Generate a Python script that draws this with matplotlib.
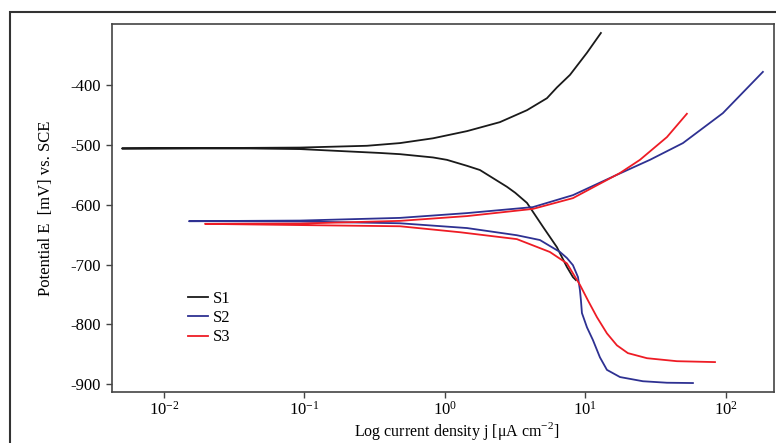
import numpy as np
import matplotlib
matplotlib.use('Agg')
import matplotlib.pyplot as plt
from matplotlib.patches import Rectangle
from matplotlib.ticker import LogLocator, NullLocator

plt.rcParams['font.family'] = ['Liberation Serif', 'DejaVu Serif']
plt.rcParams['mathtext.fontset'] = 'custom'
plt.rcParams['mathtext.rm'] = 'Liberation Serif'
plt.rcParams['axes.unicode_minus'] = False

# Polarization curves: log10 of j (uA/cm2) and E (mV vs SCE),
# ordered from the cathodic end, through Ecorr, to the anodic end
s1_logj = [0.932, 0.911, 0.868, 0.797, 0.698, 0.584, 0.50, 0.441, 0.249, 0.157, 0.014,
           -0.085, -0.320, -0.463, -1.032, -1.388, -2.299,
           -1.388, -1.032, -0.555, -0.320, -0.085, 0.157, 0.391, 0.584, 0.726,
           0.797, 0.890, 1.011, 1.110]
s1_E = [-726, -721, -704, -671, -637, -597, -580, -570, -542, -535, -525,
        -521, -515.5, -513.5, -507, -506, -506,
        -505, -504.5, -501.5, -497, -489, -477, -462, -442, -422,
        -404, -383, -346, -313]

s2_logj = [1.765, 1.580, 1.409, 1.246, 1.153, 1.103, 1.053, 1.011, 0.975, 0.968, 0.961,
           0.947, 0.911, 0.868, 0.819, 0.747, 0.676, 0.512, 0.157, -0.320, -1.032, -1.822,
           -1.032, -0.320, 0.157, 0.626, 0.911, 1.224, 1.459, 1.694, 1.978, 2.263]
s2_E = [-898, -897.5, -895, -888, -876, -855, -826, -805, -781, -760, -743,
        -721, -701, -689, -679, -669, -659, -651, -639, -631, -628, -627.5,
        -626.5, -622, -614, -604, -584, -550, -525, -497, -447, -378]

s3_logj = [1.922, 1.651, 1.438, 1.302, 1.224, 1.153, 1.082, 1.018, 0.961, 0.868,
           0.747, 0.512, 0.107, -0.320, -1.032, -1.708,
           -1.032, -0.320, 0.157, 0.626, 0.911, 1.246, 1.388, 1.580, 1.722]
s3_E = [-863, -861.5, -856.5, -848, -835, -815, -788, -760, -734, -698,
        -679, -657.5, -646, -636, -634, -632,
        -631.5, -627, -619, -607, -589, -547, -525, -487, -448]

labels = ['S1', 'S2', 'S3']
colors = ['#1a1a1a', '#2e3192', '#ee1c25']

fig = plt.figure(figsize=(7.76, 4.43), dpi=100)
ax = fig.add_axes([0.1443, 0.1151, 0.8531, 0.8307])

# outer frame around the figure
fig.patches.append(Rectangle((10 / 776, -0.2), 1.2, 1.2 - 12 / 443,
                             transform=fig.transFigure, fill=False,
                             edgecolor='#333333', linewidth=1.5, clip_on=False))

for lj, E, lab, c in zip([s1_logj, s2_logj, s3_logj], [s1_E, s2_E, s3_E], labels, colors):
    ax.plot(10 ** np.array(lj), E, color=c, linewidth=1.3, label=lab)

ax.set_xscale('log')
ax.set_xlim(10 ** -2.37, 10 ** 2.342)
ax.set_ylim(-913, -298)
ax.xaxis.set_major_locator(LogLocator(base=10, numticks=10))
ax.xaxis.set_minor_locator(NullLocator())
ax.set_yticks([-900, -800, -700, -600, -500, -400])

for s in ax.spines.values():
    s.set_color('#444444')
    s.set_linewidth(1.2)
ax.tick_params(direction='out', length=4, width=1, color='#444444',
               labelsize=12, pad=4)
ax.tick_params(axis='x', pad=2)

ax.set_xlabel('Log current density j [\u03bcA cm$^{-2}$]', fontsize=11.5)
ax.xaxis.set_label_coords(0.52, -0.077)
ax.set_ylabel('Potential E  [mV] vs. SCE', fontsize=12)
ax.yaxis.set_label_coords(-0.087, 0.5)

ax.legend(loc='upper left', bbox_to_anchor=(0.1148, 0.275), frameon=False,
          fontsize=12, handlelength=1.2, handletextpad=0.3, labelspacing=0.2,
          borderpad=0, borderaxespad=0)

fig.savefig('out.png', dpi=100)
